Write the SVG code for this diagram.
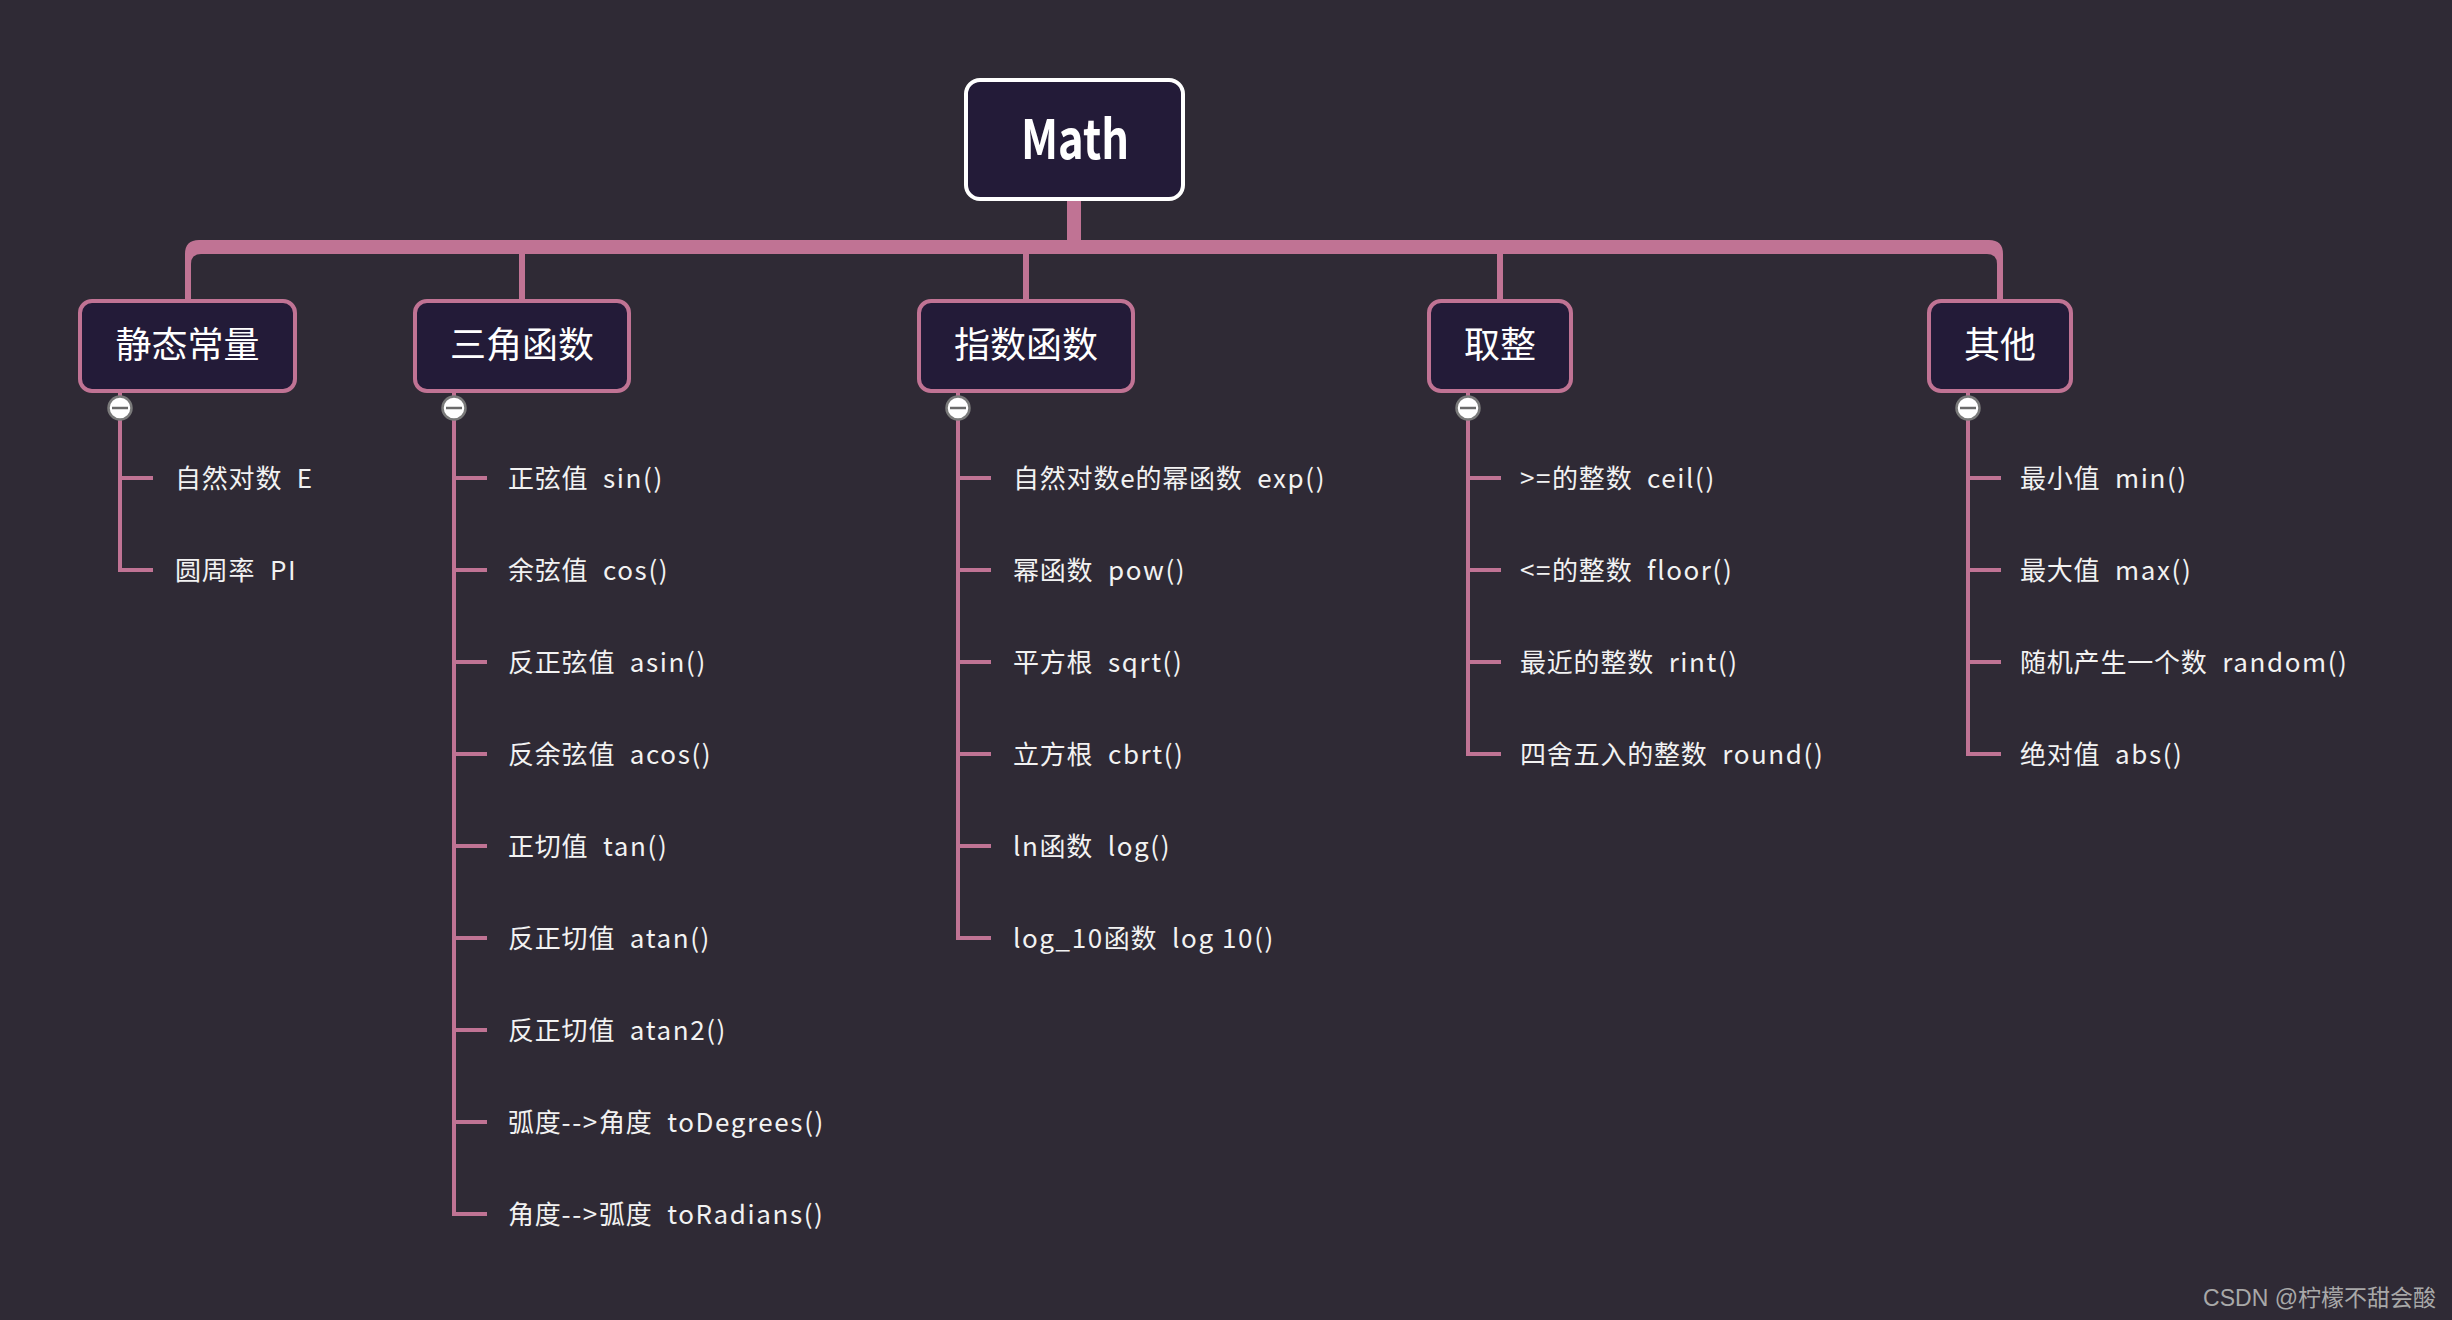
<svg xmlns="http://www.w3.org/2000/svg" width="2452" height="1320" viewBox="0 0 2452 1320">
  <style>
    .bg { fill: #2f2a35; }
    .root-box { fill: #231b38; stroke: #ffffff; stroke-width: 4; }
    .box { fill: #231b38; stroke: #c07394; stroke-width: 4; }
    .root-label { font-family: "Noto Sans CJK SC", "Noto Sans", sans-serif; font-weight: bold; font-size: 54px; fill: #ffffff; text-anchor: middle; }
    .label { font-family: "Noto Sans CJK SC", sans-serif; font-size: 36px; fill: #ffffff; text-anchor: middle; }
    .leaf { font-family: "Noto Sans CJK SC", sans-serif; font-size: 26px; fill: #f2f2f2; letter-spacing: 0.8px; }
    .leaf .fn { letter-spacing: 1.6px; }
    .trunk { fill: #c07394; }
    .twig { fill: none; stroke: #c07394; stroke-width: 4; }
    .toggle circle { fill: #ffffff; stroke: #7a7a7a; stroke-width: 2.5; }
    .toggle line { stroke: #6a6a6a; stroke-width: 2.5; }
    .mark { font-family: "Liberation Sans", "Noto Sans CJK SC", sans-serif; font-size: 23px; fill: #a8a8a8; text-anchor: end; }
  </style>

  <rect class="bg" x="0" y="0" width="2452" height="1320"/>

  <!-- connectors: trunk from the root to the five branches, and the leaf rails -->
  <g id="connectors">
    <rect class="trunk" x="1067" y="199" width="14" height="50"/>
    <path class="trunk" d="M185,299 V254 Q185,240 199,240 H1989 Q2003,240 2003,254 V299 H1997 V264 Q1997,254 1987,254 H201 Q191,254 191,264 V299 Z"/>
    <rect class="trunk" x="519" y="250" width="6" height="49"/>
    <rect class="trunk" x="1023" y="250" width="6" height="49"/>
    <rect class="trunk" x="1497" y="250" width="6" height="49"/>

    <!-- 静态常量 rail -->
    <path class="twig" d="M120,393 V570 H153 M120,478 H153"/>
    <!-- 三角函数 rail -->
    <path class="twig" d="M454,393 V1214 H487 M454,478 H487 M454,570 H487 M454,662 H487 M454,754 H487 M454,846 H487 M454,938 H487 M454,1030 H487 M454,1122 H487"/>
    <!-- 指数函数 rail -->
    <path class="twig" d="M958,393 V938 H991 M958,478 H991 M958,570 H991 M958,662 H991 M958,754 H991 M958,846 H991"/>
    <!-- 取整 rail -->
    <path class="twig" d="M1468,393 V754 H1501 M1468,478 H1501 M1468,570 H1501 M1468,662 H1501"/>
    <!-- 其他 rail -->
    <path class="twig" d="M1968,393 V754 H2001 M1968,478 H2001 M1968,570 H2001 M1968,662 H2001"/>

    <!-- collapse toggles -->
    <g class="toggle"><circle cx="120" cy="408" r="11.5"/><line x1="112" y1="408" x2="128" y2="408"/></g>
    <g class="toggle"><circle cx="454" cy="408" r="11.5"/><line x1="446" y1="408" x2="462" y2="408"/></g>
    <g class="toggle"><circle cx="958" cy="408" r="11.5"/><line x1="950" y1="408" x2="966" y2="408"/></g>
    <g class="toggle"><circle cx="1468" cy="408" r="11.5"/><line x1="1460" y1="408" x2="1476" y2="408"/></g>
    <g class="toggle"><circle cx="1968" cy="408" r="11.5"/><line x1="1960" y1="408" x2="1976" y2="408"/></g>
  </g>

  <!-- root -->
  <g id="math">
    <rect class="root-box" x="966" y="80" width="217" height="119" rx="14"/>
    <text class="root-label" x="1075" y="159" textLength="108" lengthAdjust="spacingAndGlyphs">Math</text>
  </g>

  <!-- branches -->
  <g id="static-const">
    <rect class="box" x="80" y="301" width="215" height="90" rx="12"/>
    <text class="label" x="187.5" y="358">静态常量</text>
  </g>
  <g id="trig">
    <rect class="box" x="415" y="301" width="214" height="90" rx="12"/>
    <text class="label" x="522" y="358">三角函数</text>
  </g>
  <g id="exponent">
    <rect class="box" x="919" y="301" width="214" height="90" rx="12"/>
    <text class="label" x="1026" y="358">指数函数</text>
  </g>
  <g id="rounding">
    <rect class="box" x="1429" y="301" width="142" height="90" rx="12"/>
    <text class="label" x="1500" y="358">取整</text>
  </g>
  <g id="other">
    <rect class="box" x="1929" y="301" width="142" height="90" rx="12"/>
    <text class="label" x="2000" y="358">其他</text>
  </g>

  <!-- leaves: 静态常量 -->
  <g id="static-e"><text class="leaf" x="175" y="488">自然对数 <tspan class="fn" dx="8">E</tspan></text></g>
  <g id="static-pi"><text class="leaf" x="175" y="580">圆周率 <tspan class="fn" dx="8">PI</tspan></text></g>

  <!-- leaves: 三角函数 -->
  <g id="trig-sin"><text class="leaf" x="508" y="488">正弦值 <tspan class="fn" dx="8">sin()</tspan></text></g>
  <g id="trig-cos"><text class="leaf" x="508" y="580">余弦值 <tspan class="fn" dx="8">cos()</tspan></text></g>
  <g id="trig-asin"><text class="leaf" x="508" y="672">反正弦值 <tspan class="fn" dx="8">asin()</tspan></text></g>
  <g id="trig-acos"><text class="leaf" x="508" y="764">反余弦值 <tspan class="fn" dx="8">acos()</tspan></text></g>
  <g id="trig-tan"><text class="leaf" x="508" y="856">正切值 <tspan class="fn" dx="8">tan()</tspan></text></g>
  <g id="trig-atan"><text class="leaf" x="508" y="948">反正切值 <tspan class="fn" dx="8">atan()</tspan></text></g>
  <g id="trig-atan2"><text class="leaf" x="508" y="1040">反正切值 <tspan class="fn" dx="8">atan2()</tspan></text></g>
  <g id="trig-deg"><text class="leaf" x="508" y="1132">弧度<tspan class="fn">--&gt;</tspan>角度 <tspan class="fn" dx="8">toDegrees()</tspan></text></g>
  <g id="trig-rad"><text class="leaf" x="508" y="1224">角度<tspan class="fn">--&gt;</tspan>弧度 <tspan class="fn" dx="8">toRadians()</tspan></text></g>

  <!-- leaves: 指数函数 -->
  <g id="exp-exp"><text class="leaf" x="1013" y="488">自然对数e的幂函数 <tspan class="fn" dx="8">exp()</tspan></text></g>
  <g id="exp-pow"><text class="leaf" x="1013" y="580">幂函数 <tspan class="fn" dx="8">pow()</tspan></text></g>
  <g id="exp-sqrt"><text class="leaf" x="1013" y="672">平方根 <tspan class="fn" dx="8">sqrt()</tspan></text></g>
  <g id="exp-cbrt"><text class="leaf" x="1013" y="764">立方根 <tspan class="fn" dx="8">cbrt()</tspan></text></g>
  <g id="exp-log"><text class="leaf" x="1013" y="856"><tspan class="fn">ln</tspan>函数 <tspan class="fn" dx="8">log()</tspan></text></g>
  <g id="exp-log10"><text class="leaf" x="1013" y="948"><tspan class="fn">log_10</tspan>函数 <tspan class="fn" dx="8">log 10()</tspan></text></g>

  <!-- leaves: 取整 -->
  <g id="round-ceil"><text class="leaf" x="1520" y="488"><tspan class="fn">&gt;=</tspan>的整数 <tspan class="fn" dx="8">ceil()</tspan></text></g>
  <g id="round-floor"><text class="leaf" x="1520" y="580"><tspan class="fn">&lt;=</tspan>的整数 <tspan class="fn" dx="8">floor()</tspan></text></g>
  <g id="round-rint"><text class="leaf" x="1520" y="672">最近的整数 <tspan class="fn" dx="8">rint()</tspan></text></g>
  <g id="round-round"><text class="leaf" x="1520" y="764">四舍五入的整数 <tspan class="fn" dx="8">round()</tspan></text></g>

  <!-- leaves: 其他 -->
  <g id="other-min"><text class="leaf" x="2020" y="488">最小值 <tspan class="fn" dx="8">min()</tspan></text></g>
  <g id="other-max"><text class="leaf" x="2020" y="580">最大值 <tspan class="fn" dx="8">max()</tspan></text></g>
  <g id="other-random"><text class="leaf" x="2020" y="672">随机产生一个数 <tspan class="fn" dx="8">random()</tspan></text></g>
  <g id="other-abs"><text class="leaf" x="2020" y="764">绝对值 <tspan class="fn" dx="8">abs()</tspan></text></g>

  <text class="mark" x="2436" y="1306">CSDN @柠檬不甜会酸</text>
</svg>
